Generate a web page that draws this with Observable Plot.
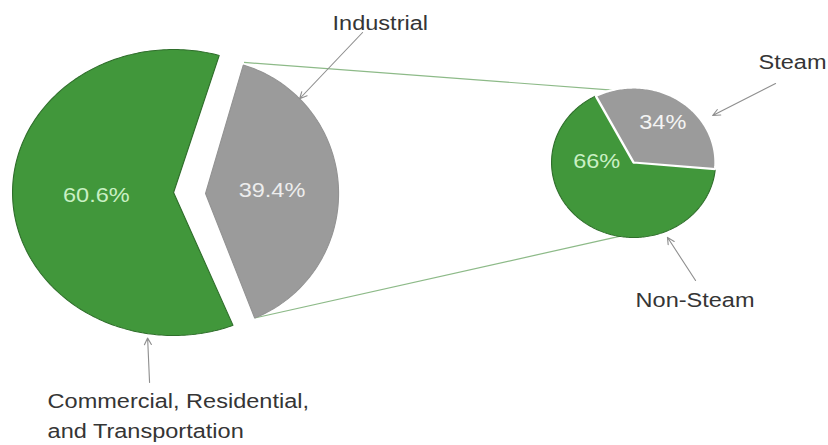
<!DOCTYPE html>
<html><head><meta charset="utf-8">
<script src="https://cdn.jsdelivr.net/npm/d3@7"></script>
<script src="https://cdn.jsdelivr.net/npm/@observablehq/plot@0.6"></script>
<style>body{margin:0;background:#fff;}</style>
</head><body><div id="chart"></div>
<script>
// ---- data ----
const sectors = ["Commercial, Residential,\nand Transportation", "Industrial"];
const sectorShares = [60.6, 39.4];
const industrialParts = ["Non-Steam", "Steam"];
const industrialShares = [66, 34];
const sectorShareLabels = ["60.6%", "39.4%"];
const industrialShareLabels = ["66%", "34%"];

// ---- layout (screen px) ----
const GREEN = "#41973b", GRAY = "#9b9b9b";
const bigGreen = {cx: 173, cy: 192, rx: 161, ry: 143};
const bigGray  = {cx: 205, cy: 193, rx: 133, ry: 134};
const small    = {cx: 633, cy: 162, rx: 82, ry: 75};
const bigRotation = 2.6;    // gray slice centred slightly above horizontal
const smallStart = -5;      // steam slice start angle

const rad = a => a * Math.PI / 180;
const onEllipse = (e, a, f = 1) => ({x: e.cx + f * e.rx * Math.cos(rad(a)), y: e.cy - f * e.ry * Math.sin(rad(a))});
function slice(e, a0, a1) {
  const pts = [{x: e.cx, y: e.cy}];
  const n = Math.ceil(Math.abs(a1 - a0));
  for (let i = 0; i <= n; i++) pts.push(onEllipse(e, a0 + (a1 - a0) * i / n));
  pts.push({x: e.cx, y: e.cy});
  return pts;
}

// big pie angles from values
const bigTotal = d3.sum(sectorShares);
const graySpan = 360 * sectorShares[1] / bigTotal;
const grayA0 = bigRotation - graySpan / 2, grayA1 = bigRotation + graySpan / 2;
const greenA0 = grayA1, greenA1 = greenA0 + 360 * sectorShares[0] / bigTotal;

// small pie angles from values
const smallTotal = d3.sum(industrialShares);
const steamA0 = smallStart, steamA1 = smallStart + 360 * industrialShares[1] / smallTotal;
const nonA0 = steamA1, nonA1 = nonA0 + 360 * industrialShares[0] / smallTotal;

const greenPts = slice(bigGreen, greenA0, greenA1);
const grayPts = slice(bigGray, grayA0, grayA1);
const nonPts = slice(small, nonA0, nonA1);
const steamPts = slice(small, steamA0, steamA1);

// connectors from gray slice corners to small pie
const cTop0 = onEllipse(bigGray, grayA1, 1.02), cTop1 = onEllipse(small, 105);
const cBot0 = onEllipse(bigGray, grayA0), cBot1 = onEllipse(small, -100);
const connectors = [
  {x1: cTop0.x, y1: cTop0.y, x2: cTop1.x, y2: cTop1.y},
  {x1: cBot0.x, y1: cBot0.y, x2: cBot1.x, y2: cBot1.y}
];

// percent labels
const pctLabels = [
  {...onEllipse(bigGreen, (greenA0 + greenA1) / 2, 0.48), t: sectorShareLabels[0], c: "#c9f0c4"},
  {...onEllipse(bigGray, (grayA0 + grayA1) / 2, 0.5), t: sectorShareLabels[1], c: "#ededed"},
  {...onEllipse(small, 178, 0.45), t: industrialShareLabels[0], c: "#c9f0c4"},
  {...onEllipse(small, (steamA0 + steamA1) / 2, 0.64), t: industrialShareLabels[1], c: "#f4f4f4"}
];

// annotations: arrow tips on slices
const tipInd = onEllipse(bigGray, 45, 1.0);
const tipCom = onEllipse(bigGreen, -99, 1.03);
const tipSteam = onEllipse(small, 33, 1.15);
const tipNon = onEllipse(small, -67.5, 1.08);
const arrows = [
  {x1: 362, y1: 32, x2: tipInd.x, y2: tipInd.y},
  {x1: 149, y1: 382, x2: tipCom.x, y2: tipCom.y},
  {x1: 775, y1: 83, x2: tipSteam.x, y2: tipSteam.y},
  {x1: 695, y1: 280, x2: tipNon.x, y2: tipNon.y}
];
const annText = [
  {x: 332, y: 20, t: sectors[1]},
  {x: 47, y: 413, t: sectors[0]},
  {x: 758, y: 59, t: industrialParts[1]},
  {x: 635, y: 297, t: industrialParts[0]}
];

const W = Math.round(828 / 1.12);
const svg = Plot.plot({
  width: W, height: 445, margin: 0,
  x: {domain: [0, 828], range: [0, W], axis: null},
  y: {domain: [0, 445], range: [0, 445], axis: null},
  style: {fontFamily: "'Liberation Sans', Arial, sans-serif", background: "#fff"},
  marks: [
    Plot.link(connectors, {x1: "x1", y1: "y1", x2: "x2", y2: "y2", stroke: "#8dba88", strokeWidth: 1.2}),
    Plot.line(greenPts, {x: "x", y: "y", fill: GREEN, stroke: "#2f6e2b", strokeWidth: 1, strokeLinejoin: "miter"}),
    Plot.line(grayPts, {x: "x", y: "y", fill: GRAY, stroke: "#939393", strokeWidth: 1, strokeLinejoin: "miter"}),
    Plot.line(nonPts, {x: "x", y: "y", fill: GREEN, stroke: "#2f6e2b", strokeWidth: 1, strokeLinejoin: "miter"}),
    Plot.line(steamPts, {x: "x", y: "y", fill: GRAY, stroke: "#ffffff", strokeWidth: 2.2, strokeLinejoin: "miter"}),
    Plot.text(pctLabels, {x: "x", y: "y", text: "t", fill: "c", fontSize: 21}),
    Plot.arrow(arrows, {x1: "x1", y1: "y1", x2: "x2", y2: "y2", stroke: "#8f8f8f", strokeWidth: 1, headLength: 11, headAngle: 50}),
    Plot.text(annText, {x: "x", y: "y", text: "t", textAnchor: "start", fill: "#353535", fontSize: 21, lineHeight: 1.42})
  ]
});
svg.setAttribute("width", 828);
svg.setAttribute("height", 445);
svg.setAttribute("preserveAspectRatio", "none");
svg.style.maxWidth = "none";
svg.style.width = "828px";
svg.style.height = "445px";
document.getElementById("chart").appendChild(svg);
</script>
</body></html>
